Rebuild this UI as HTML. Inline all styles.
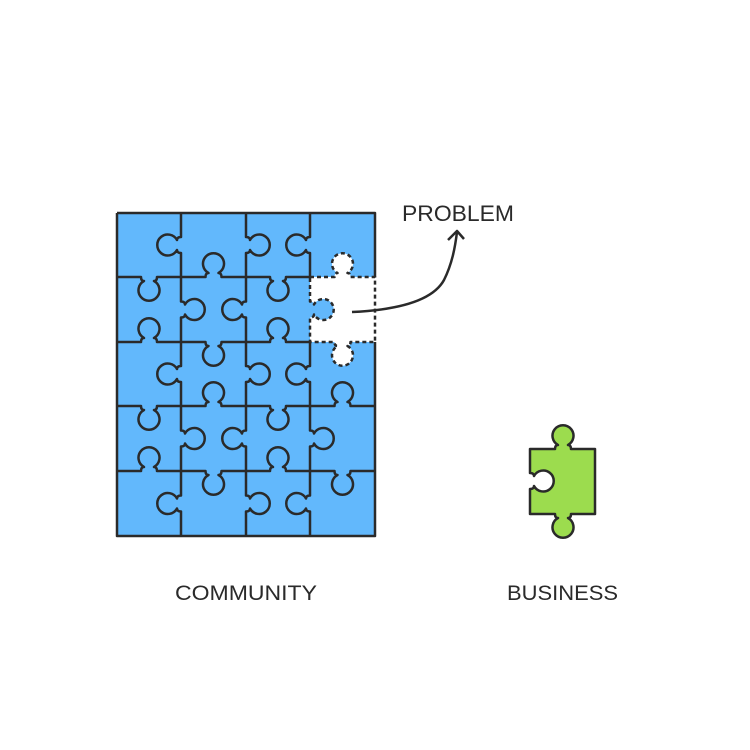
<!DOCTYPE html>
<html><head><meta charset="utf-8"><style>
html,body{margin:0;padding:0;background:#fff;width:750px;height:750px;overflow:hidden}
svg{display:block}
text{font-family:"Liberation Sans",sans-serif;fill:#2a2a2a}
</style></head><body>
<svg width="750" height="750" viewBox="0 0 750 750" xmlns="http://www.w3.org/2000/svg">
<rect x="117" y="213" width="258" height="323" fill="#62b8fc"/>
<path d="M310 277 L334.5 277 Q334.5 273 337.5 273 A10.5 10.5 0 1 1 347.5 273 Q350.5 273 350.5 277 L375 277 L375 342 L350.5 342 Q350.5 346 347.5 346 A10.5 10.5 0 1 1 337.5 346 Q334.5 346 334.5 342 L310 342 L310 317.5 Q314 317.5 314 314.5 A10.5 10.5 0 1 0 314 304.5 Q314 301.5 310 301.5 Z" fill="#fff"/>
<g fill="none" stroke="#2a2a2a" stroke-width="2.5" stroke-linejoin="round">
<path d="M117 213 H375 V277 M375 342 V536 H117 V213"/>
<path d="M181 213 L181 237 Q177 237 177 240 A10.5 10.5 0 1 0 177 250 Q177 253 181 253
L181 301.5 Q185 301.5 185 304.5 A10.5 10.5 0 1 1 185 314.5 Q185 317.5 181 317.5
L181 366 Q177 366 177 369 A10.5 10.5 0 1 0 177 379 Q177 382 181 382
L181 430.5 Q185 430.5 185 433.5 A10.5 10.5 0 1 1 185 443.5 Q185 446.5 181 446.5
L181 495.5 Q177 495.5 177 498.5 A10.5 10.5 0 1 0 177 508.5 Q177 511.5 181 511.5 L181 536"/>
<path d="M246 213 L246 237 Q250 237 250 240 A10.5 10.5 0 1 1 250 250 Q250 253 246 253
L246 301.5 Q242 301.5 242 304.5 A10.5 10.5 0 1 0 242 314.5 Q242 317.5 246 317.5
L246 366 Q250 366 250 369 A10.5 10.5 0 1 1 250 379 Q250 382 246 382
L246 430.5 Q242 430.5 242 433.5 A10.5 10.5 0 1 0 242 443.5 Q242 446.5 246 446.5
L246 495.5 Q250 495.5 250 498.5 A10.5 10.5 0 1 1 250 508.5 Q250 511.5 246 511.5 L246 536"/>
<path d="M310 213 L310 237 Q306 237 306 240 A10.5 10.5 0 1 0 306 250 Q306 253 310 253 L310 277"/>
<path d="M310 342 L310 366 Q306 366 306 369 A10.5 10.5 0 1 0 306 379 Q306 382 310 382
L310 430.5 Q314 430.5 314 433.5 A10.5 10.5 0 1 1 314 443.5 Q314 446.5 310 446.5
L310 495.5 Q306 495.5 306 498.5 A10.5 10.5 0 1 0 306 508.5 Q306 511.5 310 511.5 L310 536"/>
<path d="M117 277 L141 277 Q141 281 144 281 A10.5 10.5 0 1 0 154 281 Q157 281 157 277
L205.5 277 Q205.5 273 208.5 273 A10.5 10.5 0 1 1 218.5 273 Q221.5 273 221.5 277
L270 277 Q270 281 273 281 A10.5 10.5 0 1 0 283 281 Q286 281 286 277 L310 277"/>
<path d="M117 342 L141 342 Q141 338 144 338 A10.5 10.5 0 1 1 154 338 Q157 338 157 342
L205.5 342 Q205.5 346 208.5 346 A10.5 10.5 0 1 0 218.5 346 Q221.5 346 221.5 342
L270 342 Q270 338 273 338 A10.5 10.5 0 1 1 283 338 Q286 338 286 342 L310 342"/>
<path d="M117 406 L141 406 Q141 410 144 410 A10.5 10.5 0 1 0 154 410 Q157 410 157 406
L205.5 406 Q205.5 402 208.5 402 A10.5 10.5 0 1 1 218.5 402 Q221.5 402 221.5 406
L270 406 Q270 410 273 410 A10.5 10.5 0 1 0 283 410 Q286 410 286 406
L334.5 406 Q334.5 402 337.5 402 A10.5 10.5 0 1 1 347.5 402 Q350.5 402 350.5 406 L375 406"/>
<path d="M117 471 L141 471 Q141 467 144 467 A10.5 10.5 0 1 1 154 467 Q157 467 157 471
L205.5 471 Q205.5 475 208.5 475 A10.5 10.5 0 1 0 218.5 475 Q221.5 475 221.5 471
L270 471 Q270 467 273 467 A10.5 10.5 0 1 1 283 467 Q286 467 286 471
L334.5 471 Q334.5 475 337.5 475 A10.5 10.5 0 1 0 347.5 475 Q350.5 475 350.5 471 L375 471"/>
<path stroke-dasharray="4 3" d="M310 277 L334.5 277 Q334.5 273 337.5 273 A10.5 10.5 0 1 1 347.5 273 Q350.5 273 350.5 277 L375 277 L375 342 L350.5 342 Q350.5 346 347.5 346 A10.5 10.5 0 1 1 337.5 346 Q334.5 346 334.5 342 L310 342 L310 317.5 Q314 317.5 314 314.5 A10.5 10.5 0 1 0 314 304.5 Q314 301.5 310 301.5 Z"/>
<path d="M352 312 C395 310 432 302 444 280 C452 264 455 248 457 232"/>
<path d="M448 240 L457 231 L464 239"/>
</g>
<path d="M530 449 L555 449 Q555 445 558 445 A10.5 10.5 0 1 1 568 445 Q571 445 571 449 L595 449 L595 514 L571 514 Q571 518 568 518 A10.5 10.5 0 1 1 558 518 Q555 518 555 514 L530 514 L530 489 Q534 489 534 486 A10.5 10.5 0 1 0 534 476 Q534 473 530 473 Z" fill="#9cdc4e" stroke="#2a2a2a" stroke-width="2.5" stroke-linejoin="round"/>
<text x="402" y="221" font-size="22" textLength="112" lengthAdjust="spacingAndGlyphs">PROBLEM</text>
<text x="175" y="600" font-size="21" textLength="142" lengthAdjust="spacingAndGlyphs">COMMUNITY</text>
<text x="507" y="600" font-size="21" textLength="111" lengthAdjust="spacingAndGlyphs">BUSINESS</text>
</svg>
</body></html>
